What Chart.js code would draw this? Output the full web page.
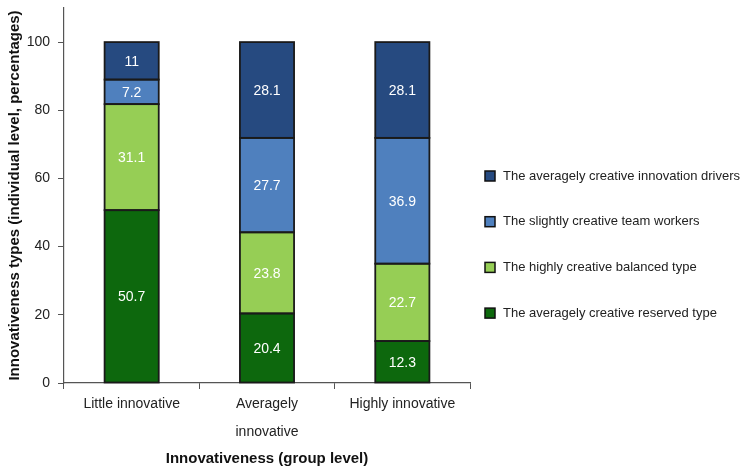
<!DOCTYPE html>
<html>
<head>
<meta charset="utf-8">
<script src="https://cdn.jsdelivr.net/npm/chart.js@4/dist/chart.umd.min.js"></script>
<style>
  html, body { margin: 0; padding: 0; background: #fff; }
  #wrap { width: 743px; height: 468px; position: relative; }
</style>
</head>
<body>
<div id="wrap"><canvas id="grafik"></canvas></div>
<script>
// kategoriler ve seriler
var gruplar = ["Little innovative", ["Averagely", "innovative"], "Highly innovative"];
var seriAdlari = [
  "The averagely creative reserved type",
  "The highly creative balanced type",
  "The slightly creative team workers",
  "The averagely creative innovation drivers"
];
var ihtiyatli = [50.7, 20.4, 12.3];
var dengeli = [31.1, 23.8, 22.7];
var takim = [7.2, 27.7, 36.9];
var surucu = [11, 28.1, 28.1];
var yTikleri = [0, 20, 40, 60, 80, 100];

var renkler = ["#0d680d", "#96ce55", "#4f80be", "#264a80"];
var seriVerileri = [ihtiyatli, dengeli, takim, surucu];

var datasets = [];
for (var i = 0; i < seriVerileri.length; i++) {
  datasets.push({
    label: seriAdlari[i],
    data: seriVerileri[i],
    backgroundColor: renkler[i],
    borderWidth: 0,
    barPercentage: 0.4,
    categoryPercentage: 1
  });
}

/*ÇUBUK KENARLARI VE DEĞER ETİKETLERİ*/
var degerEtiketleri = {
  id: "degerEtiketleri",
  afterDatasetsDraw: function (chart) {
    var ctx = chart.ctx;
    ctx.save();
    ctx.strokeStyle = "#1a1a1a";
    ctx.lineWidth = 1.8;
    chart.data.datasets.forEach(function (ds, di) {
      var meta = chart.getDatasetMeta(di);
      meta.data.forEach(function (bar) {
        var sol = bar.x - bar.width / 2;
        var ust = Math.min(bar.y, bar.base);
        ctx.strokeRect(sol, ust, bar.width, Math.abs(bar.base - bar.y));
      });
    });
    ctx.fillStyle = "#fff";
    ctx.font = "14px 'Liberation Sans', Arial, sans-serif";
    ctx.textAlign = "center";
    ctx.textBaseline = "middle";
    chart.data.datasets.forEach(function (ds, di) {
      var meta = chart.getDatasetMeta(di);
      meta.data.forEach(function (bar, j) {
        var p = bar.getCenterPoint();
        ctx.fillText(String(ds.data[j]), p.x, p.y + 1);
      });
    });
    ctx.restore();
  }
};

/*SAĞ TARAFTAKİ LEJANT*/
var lejant = {
  id: "lejant",
  afterDraw: function (chart) {
    var ctx = chart.ctx;
    var dsler = chart.data.datasets;
    ctx.save();
    ctx.font = "13px 'Liberation Sans', Arial, sans-serif";
    ctx.textBaseline = "middle";
    ctx.textAlign = "left";
    for (var k = 0; k < dsler.length; k++) {
      var ds = dsler[dsler.length - 1 - k];
      var y = 176 + k * 45.7;
      ctx.fillStyle = ds.backgroundColor;
      ctx.fillRect(485, y - 5, 10, 10);
      ctx.strokeStyle = "#111";
      ctx.lineWidth = 1.5;
      ctx.strokeRect(485, y - 5, 10, 10);
      ctx.fillStyle = "#222";
      ctx.fillText(ds.label, 503, y);
    }
    ctx.restore();
  }
};

var ctx = document.getElementById("grafik");
var myChart = new Chart(ctx, {
  type: "bar",
  data: { labels: gruplar, datasets: datasets },
  plugins: [degerEtiketleri, lejant],
  options: {
    responsive: true,
    maintainAspectRatio: false,
    animation: false,
    layout: { padding: { top: 8, right: 273, bottom: 0, left: 4 } },
    plugins: {
      legend: { display: false },
      tooltip: { enabled: false }
    },
    scales: {
      x: {
        stacked: true,
        grid: { display: true, offset: true, drawOnChartArea: false, tickLength: 6, color: "#555" },
        border: { color: "#555", width: 1.2 },
        ticks: {
          color: "#222",
          padding: 1,
          font: { family: "'Liberation Sans', Arial, sans-serif", size: 14, lineHeight: 2 }
        },
        title: {
          display: true,
          text: "Innovativeness (group level)",
          color: "#111",
          font: { family: "'Liberation Sans', Arial, sans-serif", size: 15, weight: "bold" },
          padding: { top: 3, bottom: 0 }
        }
      },
      y: {
        stacked: true,
        min: 0,
        max: 110,
        afterBuildTicks: function (axis) {
          axis.ticks = yTikleri.map(function (v) { return { value: v }; });
        },
        afterFit: function (axis) {
          axis.width = 60;
          axis.paddingTop = 0;
        },
        grid: { display: true, drawOnChartArea: false, tickLength: 6, color: "#555" },
        border: { color: "#555", width: 1.2 },
        ticks: {
          color: "#222",
          padding: 8,
          font: { family: "'Liberation Sans', Arial, sans-serif", size: 14 }
        },
        title: {
          display: true,
          text: "Innovativeness types (individual level, percentages)",
          color: "#111",
          font: { family: "'Liberation Sans', Arial, sans-serif", size: 15, weight: "bold" },
          padding: { top: 2, bottom: 0 }
        }
      }
    }
  }
});
</script>
</body>
</html>
